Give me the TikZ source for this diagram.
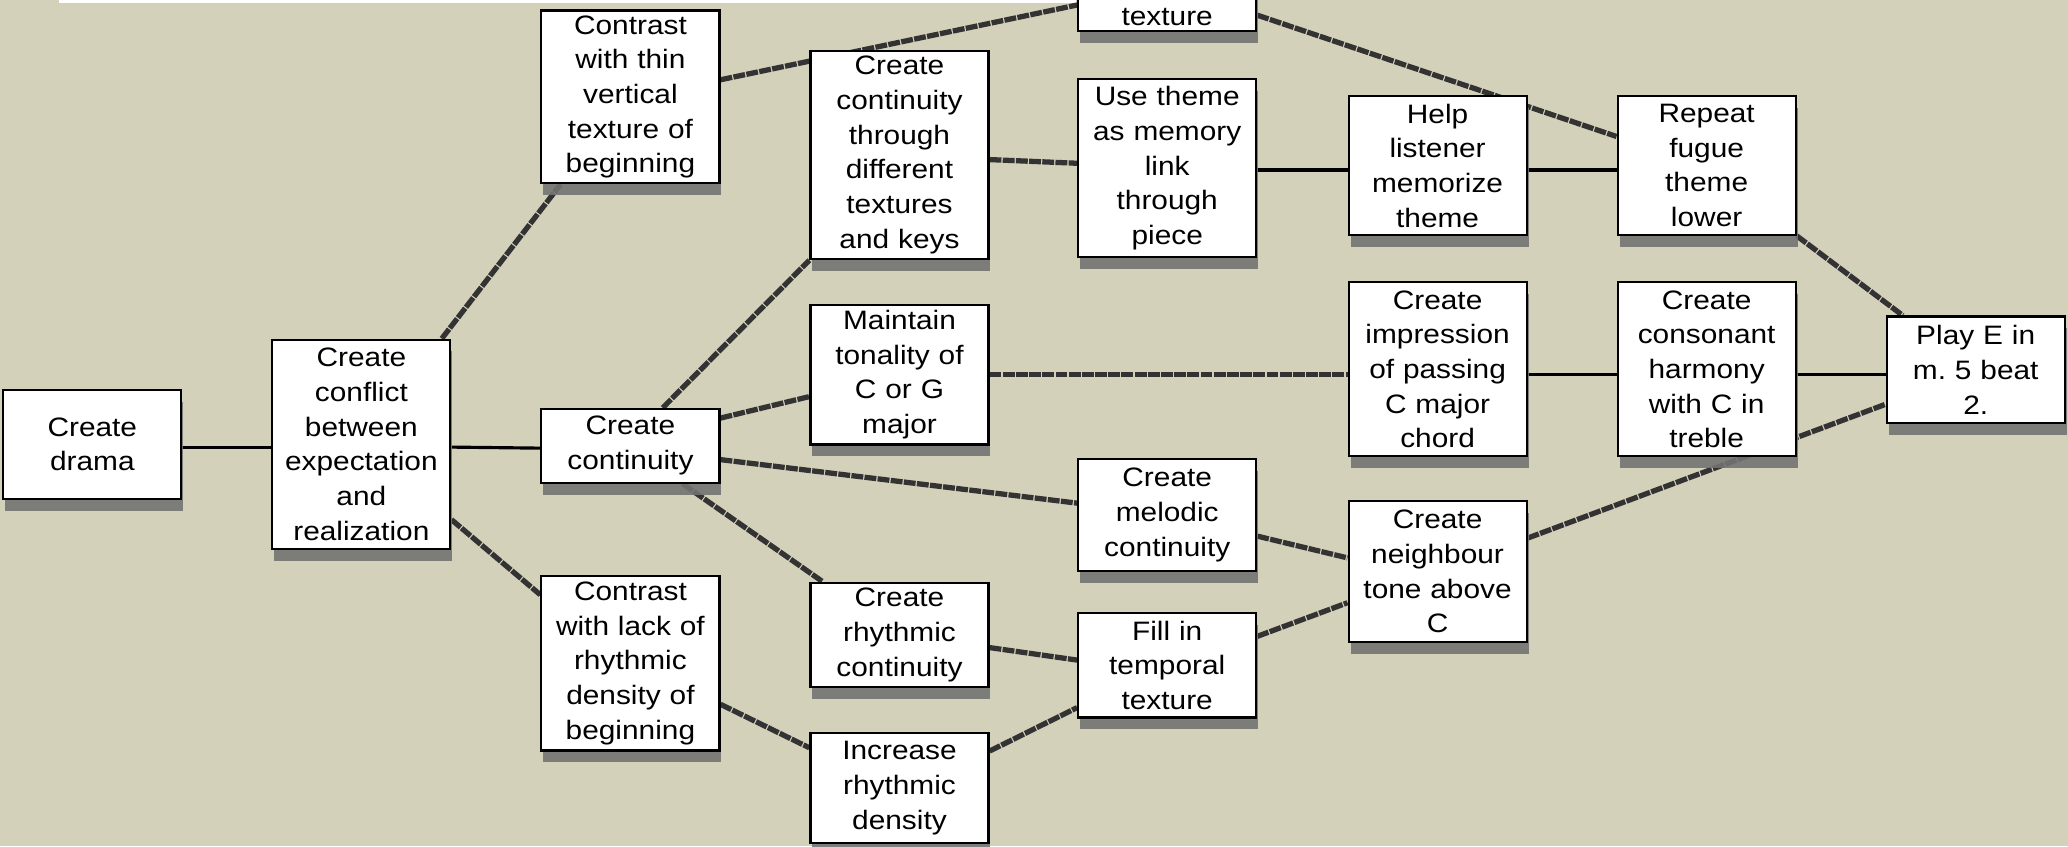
\documentclass[tikz,border=0pt]{standalone}
\usepackage{fontspec}
\newfontfamily\boxfont{Liberation Sans}[FakeStretch=1.12]
\usetikzlibrary{shadows}
\definecolor{paper}{RGB}{212,209,186}
\pgfdeclarelayer{back}
\pgfsetlayers{back,main}
\tikzset{
  box/.style={draw, line width=1.6pt, fill=white, inner sep=0pt, text width=135pt,
    align=center, font=\boxfont\fontsize{20.2}{26.3}\selectfont,
    drop shadow={shadow xshift=1.5pt, shadow yshift=-9pt, fill=black!55, opacity=0.9}},
  thicklink/.style={line width=4pt, black!80, dash pattern=on 9pt off 1pt},
  thinlink/.style={line width=2.4pt, black}
}
\begin{document}
\begin{tikzpicture}[x=1pt,y=-1pt]
        \useasboundingbox (0,0) rectangle (1568,641.5);
% Draw the boxes
        \node[box, minimum height=83pt] (drama) at (70,337) {Create\\drama};
        \node[box, minimum height=159pt] (conflict) at (274,337) {Create\\conflict\\between\\expectation\\and\\realization};
        \node[box, minimum height=131pt] (thin) at (478,73.5) {Contrast\\with thin\\vertical\\texture of\\beginning};
        \node[box, minimum height=56pt] (continuity) at (478,338) {Create\\continuity};
        \node[box, minimum height=132pt] (lack) at (478,503) {Contrast\\with lack of\\rhythmic\\density of\\beginning};
        \node[box, minimum height=158pt] (keys) at (682,117.5) {Create\\continuity\\through\\different\\textures\\and keys};
        \node[box, minimum height=106pt] (tonality) at (682,284) {Maintain\\tonality of\\C or G\\major};
        \node[box, minimum height=79pt] (rhythm) at (682,481.5) {Create\\rhythmic\\continuity};
        \node[box, minimum height=83pt] (increase) at (682,597.5) {Increase\\rhythmic\\density};
        \node[box, anchor=south, text height=80pt, text depth=4.5pt] (texture) at (885,24.5) {texture};
        \node[box, minimum height=135pt] (memory) at (885,127.5) {Use theme\\as memory\\link\\through\\piece};
        \node[box, minimum height=85pt] (melodic) at (885,390.5) {Create\\melodic\\continuity};
        \node[box, minimum height=79pt] (temporal) at (885,504.5) {Fill in\\temporal\\texture};
        \node[box, minimum height=105pt] (help) at (1090,125.5) {Help\\listener\\memorize\\theme};
        \node[box, minimum height=132pt] (passing) at (1090,280) {Create\\impression\\of passing\\C major\\chord};
        \node[box, minimum height=107pt] (neighbour) at (1090,433.5) {Create\\neighbour\\tone above\\C};
        \node[box, minimum height=105pt] (fugue) at (1294,125.5) {Repeat\\fugue\\theme\\lower};
        \node[box, minimum height=132pt] (consonant) at (1294,280) {Create\\consonant\\harmony\\with C in\\treble};
        \node[box, minimum height=81pt] (play) at (1498,280.5) {Play E in\\m.\ 5 beat\\2.};

% Draw the links behind the boxes
        \begin{pgfonlayer}{back}
        \fill[paper] (0,0) rectangle (1568,641.5);
        \fill[white] (45,0) rectangle (816,2.5);
        \draw[thinlink] ([yshift=-2pt]drama.east) -- ([yshift=-2pt]conflict.west);
        \draw[thinlink] ([yshift=-2pt]conflict.east) -- ([yshift=-1.8pt]continuity.west);
        \draw[thicklink] ([xshift=61pt]conflict.north) -- ([xshift=-53pt]thin.south);
        \draw[thicklink] ([yshift=-57pt]conflict.east) -- ([yshift=52pt]lack.west);
        \draw[thicklink] ([yshift=13pt]thin.east) -- ([yshift=20.7pt]texture.south west);
        \draw[thicklink] ([yshift=13pt]texture.south east) -- ([yshift=22pt]fugue.west);
        \draw[thicklink] ([xshift=24.5pt]continuity.north) -- (keys.south west);
        \draw[thicklink] ([yshift=21pt]continuity.east) -- ([yshift=-16.7pt]tonality.west);
        \draw[thicklink] ([yshift=-10.5pt]continuity.east) -- ([yshift=9pt]melodic.west);
        \draw[thicklink] ([xshift=39.5pt]continuity.south) -- ([xshift=-58pt]rhythm.north);
        \draw[thicklink] ([yshift=-31pt]lack.east) -- ([yshift=30.5pt]increase.west);
        \draw[thicklink] ([yshift=-3.5pt]keys.east) -- ([yshift=3.7pt]memory.west);
        \draw[thinlink] ([yshift=-1.4pt]memory.east) -- ([yshift=-3.4pt]help.west);
        \draw[thinlink] ([yshift=-3.4pt]help.east) -- ([yshift=-3.4pt]fugue.west);
        \draw[thicklink] (tonality.east) -- ([yshift=-4pt]passing.west);
        \draw[thinlink] ([yshift=-4pt]passing.east) -- ([yshift=-4pt]consonant.west);
        \draw[thinlink] ([yshift=-4pt]consonant.east) -- ([yshift=-3.5pt]play.west);
        \draw[thicklink] (fugue.south east) -- ([xshift=13pt]play.north west);
        \draw[thicklink] ([yshift=25.5pt]neighbour.east) -- ([yshift=15.3pt]play.south west);
        \draw[thicklink] ([yshift=-16pt]melodic.east) -- ([yshift=10.5pt]neighbour.west);
        \draw[thicklink] ([yshift=-9.5pt]rhythm.east) -- ([yshift=4pt]temporal.west);
        \draw[thicklink] ([yshift=28pt]increase.east) -- ([yshift=-32pt]temporal.west);
        \draw[thicklink] ([yshift=22pt]temporal.east) -- ([yshift=-23.5pt]neighbour.west);
        \end{pgfonlayer}
\end{tikzpicture}
\end{document}
